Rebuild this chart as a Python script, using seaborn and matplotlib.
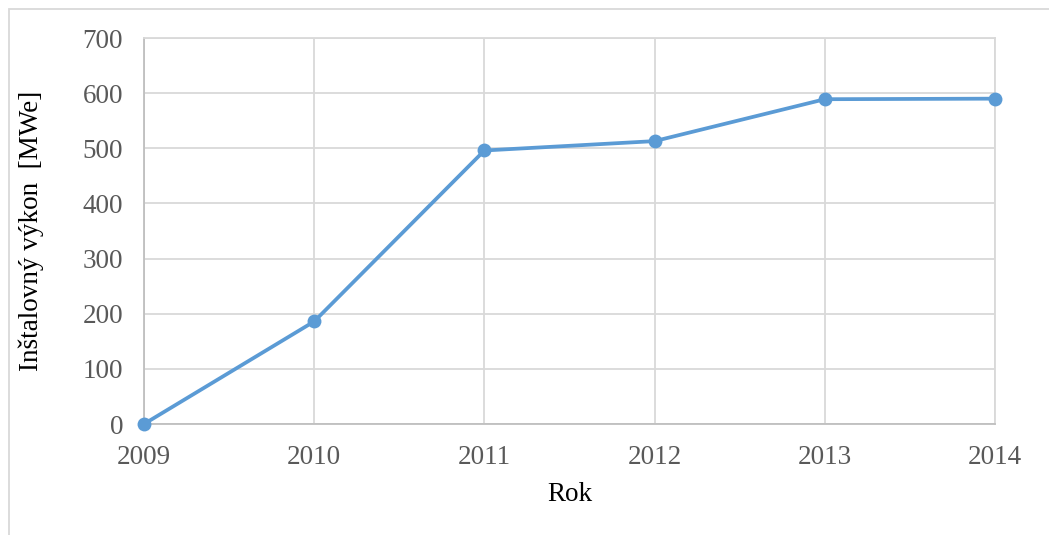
import matplotlib
matplotlib.use("Agg")
import matplotlib.pyplot as plt
from matplotlib.patches import Rectangle
import seaborn as sns
import pandas as pd

years = [2009, 2010, 2011, 2012, 2013, 2014]
capacity_mwe = [0, 186, 496, 513, 589, 590]
y_ticks = [0, 100, 200, 300, 400, 500, 600, 700]

sns.set_theme(style="white")
plt.rcParams["font.family"] = ["Liberation Serif", "DejaVu Serif"]

df = pd.DataFrame({"Rok": years, "Vykon": capacity_mwe})

fig = plt.figure(figsize=(10.49, 5.35), dpi=100)
ax = fig.add_axes([144 / 1049, 1 - 424 / 535, (995 - 144) / 1049, (424 - 38) / 535])

sns.lineplot(data=df, x="Rok", y="Vykon", ax=ax, color="#5b9bd5", linewidth=2.7,
             marker="o", markersize=10, markeredgewidth=0, clip_on=False, zorder=5)

ax.set_xlim(2009, 2014)
ax.set_ylim(0, 700)
ax.set_xticks(years)
ax.set_xticklabels([str(y) for y in years])
ax.set_yticks(y_ticks)

grid_c = "#d9d9d9"
ax.grid(True, axis="both", color=grid_c, linewidth=1.3)
ax.set_axisbelow(True)
for side in ["top", "right"]:
    ax.spines[side].set_visible(True)
    ax.spines[side].set_color(grid_c)
    ax.spines[side].set_linewidth(1.3)
for side in ["left", "bottom"]:
    ax.spines[side].set_visible(True)
    ax.spines[side].set_color("#bfbfbf")
    ax.spines[side].set_linewidth(1.3)

ax.tick_params(axis="both", length=0, labelsize=19.5, labelcolor="#595959")
ax.tick_params(axis="x", pad=15)
ax.tick_params(axis="y", pad=15)

ax.set_xlabel("Rok", fontsize=19.5, color="black")
ax.set_ylabel("Inštalovný výkon  [MWe]", fontsize=19.5, color="black")
ax.xaxis.set_label_coords(0.5, -0.15)
ax.yaxis.set_label_coords(-0.1175, 0.5)

# outer chart frame
fig.patches.append(Rectangle((9 / 1049, -0.1), 1.2, 1.1 - 9 / 535,
                             transform=fig.transFigure, fill=False,
                             edgecolor="#d9d9d9", linewidth=1.3, zorder=0))

fig.savefig("out.png", dpi=100, facecolor="white")
